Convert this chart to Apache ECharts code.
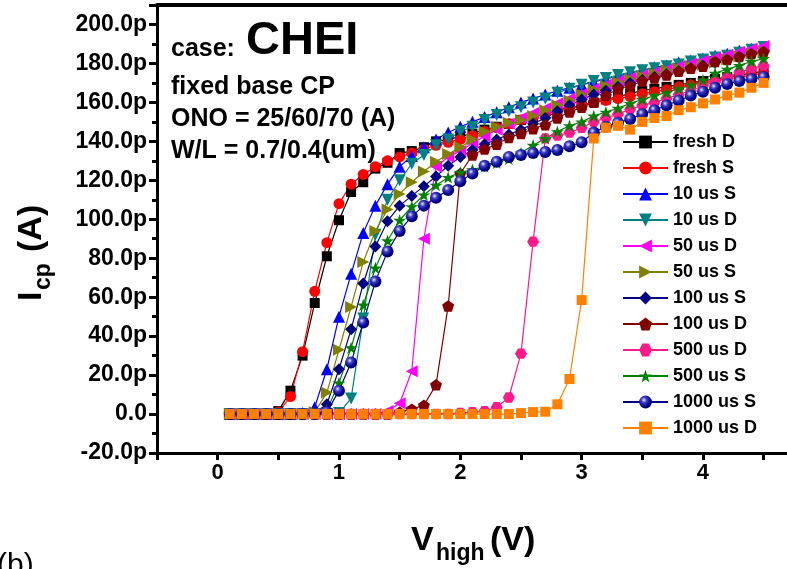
<!DOCTYPE html>
<html>
<head>
<meta charset="utf-8">
<script src="https://cdn.jsdelivr.net/npm/echarts@6/dist/echarts.min.js"></script>
<style>html,body{margin:0;padding:0;background:#fff;}#c{width:787px;height:569px;}</style>
</head>
<body>
<div id="c"></div>
<script>
// V_high (V)
const xs = [0.1,0.2,0.3,0.4,0.5, 0.6,0.7,0.8,0.9,1.0, 1.1,1.2,1.3,1.4,1.5, 1.6,1.7,1.8,1.9,2.0, 2.1,2.2,2.3,2.4,2.5, 2.6,2.7,2.8,2.9,3.0, 3.1,3.2,3.3,3.4,3.5, 3.6,3.7,3.8,3.9,4.0, 4.1,4.2,4.3,4.4,4.5];
// I_cp in pA
const freshD = [0,0,0,0,1.5, 12,30,57,81,99.5, 114,119,126,129,134, 135,137,140,141,142.5, 144,146,147.5,149,151, 152.5,154,155.5,157,158.5, 160,161.5,163,164.5,166, 167,168,169,170,171, 172,173,174,175,176];
const freshS = [0,0,0,0,1, 9,32,63,88,108, 118,123,127,130,132, 134,136,138,139.5,141, 143,145,147,149,151, 152.5,154,155.5,157,158.5, 160,161,162,163,164.5, 165.5,166.5,168,169,170, 171,172,173,174,175];
const us10S = [0,0,0,0,0, 0,0.5,3.5,23,50, 72,93,107,118,127, 132.5,137,141,144.5,147.5, 150,152.5,155,157.5,160, 162,164,166,167.5,169, 170.5,172,173.5,175,176.5, 178,179,180.5,181.5,182.5, 184,185,186.5,187.5,188.5];
const us10D = [0,0,0,0,0, 0,0,0,0,0.5, 8,49,92,110,120, 128.5,133,138,141,145, 147.5,151,153.5,155.5,157.5, 160,162,165,167,169, 171,172.5,174,175.5,176.5, 177.5,178.5,179.5,181,182, 183,184,185.5,187,188.5];
const us50D = [0,0,0,0,0, 0,0,0,0,0, 0,0,0,1.5,5.5, 22,90,127,132,135, 139,142.5,146,149,152, 154.5,157,159.5,162,164.5, 167,169,171,172.5,174, 175.5,177,178.5,180,181.5, 183,184.5,186,187.5,189];
const us50S = [0,0,0,0,0, 0,0,1,11,33, 55,78,94,105,113, 119,124.5,129.5,133.5,137, 141,145,147.5,149.5,151, 153,156,158.5,161,164, 166.5,168.5,170.5,172,173.5, 175,176.5,177.5,178.5,179.5, 180.5,182,183.5,185,186];
const us100S = [0,0,0,0,0, 0,0,0.5,5,23, 43.5,67,86,99,107, 112,117,122,127.5,132, 135.5,138.5,141,143.5,146, 149,152,155.5,158.5,161.5, 164,166,168,170,171.5, 173,174.5,176,177.5,179, 180.5,182,183.5,185,186];
const us100D = [0,0,0,0,0, 0,0,0,0,0, 0,0,0,0,1, 2.5,4.5,15,55.5,123.5, 133,136,138.5,142,144, 146.5,148.5,152,155,157.5, 160,163.5,167,168.5,171, 172.5,174,176,177.5,178.5, 181,182,183.5,185,186];
const us500D = [0,0,0,0,0, 0,0,0,0,0, 0,0,0,0,0, 0,0,0,0,0.5, 1,1.5,3.5,8.5,31, 88.5,141.5,143,144.5,147, 150,152,154,156.5,158.5, 160,162,164,166,168.5, 170.5,173,175.5,177.5,179];
const us500S = [0,0,0,0,0, 0,0,0,2,16, 34,56,75,89,99.5, 106.5,112.5,117.5,121.5,124, 125.5,127,129,131,134, 138,141.5,145,148,150, 153,155,157,159.5,161.5, 163.5,165,167,169,171.5, 175,177,179,181,182.5];
const us1000S = [0,0,0,0,0, 0,0,0,1,12, 26.5,47,68,83.5,94, 101.5,107,111,115,119.5, 123.5,127.5,129.5,132,133, 134,134.5,135.5,137.5,139.5, 144.5,147.5,149.5,151.5,154, 156,158.5,161,163.5,165.5, 167.5,169.5,171,172,173];
const us1000D = [0,0,0,0,0, 0,0,0,0,0, 0,0,0,0,0, 0,0,0,0,0, 0,0,0,0,0.5, 1,1.2,5,18,58.5, 141.5,147,148,146,150, 152,153,156,157.5,159.5, 161.5,163.5,165,167.5,170];

const seriesNames = ['fresh D','fresh S','10 us S','10 us D','50 us D','50 us S','100 us S','100 us D','500 us D','500 us S','1000 us S','1000 us D'];
const seriesValues = [freshD, freshS, us10S, us10D, us50D, us50S, us100S, us100D, us500D, us500S, us1000S, us1000D];
const yTickValues = [-20,0,20,40,60,80,100,120,140,160,180,200];
const xTickLabels = ['0','1','2','3','4'];

const PENT = 'path://M0,-1L0.951,-0.309L0.588,0.809L-0.588,0.809L-0.951,-0.309Z';
const HEX = 'path://M-1,0L-0.5,-0.866L0.5,-0.866L1,0L0.5,0.866L-0.5,0.866Z';
const STAR = 'path://M0,-1L0.2245,-0.309L0.951,-0.309L0.363,0.118L0.588,0.809L0,0.382L-0.588,0.809L-0.363,0.118L-0.951,-0.309L-0.2245,-0.309Z';
const BALL = {type:'radial', x:0.38, y:0.35, r:0.7, colorStops:[{offset:0,color:'#e8e8ff'},{offset:0.3,color:'#4040c0'},{offset:0.7,color:'#000090'},{offset:1,color:'#000050'}]};

const styles = [
  {color:'#000000', symbol:'rect', rot:0, size:10},
  {color:'#ff0000', symbol:'circle', rot:0, size:11},
  {color:'#0000ff', symbol:'triangle', rot:0, size:12},
  {color:'#008080', symbol:'triangle', rot:180, size:12},
  {color:'#ff00ff', symbol:'triangle', rot:90, size:12},
  {color:'#808000', symbol:'triangle', rot:-90, size:12},
  {color:'#000080', symbol:'diamond', rot:0, size:12},
  {color:'#800000', symbol:PENT, rot:0, size:12},
  {color:'#ff1a8c', symbol:HEX, rot:0, size:12},
  {color:'#008000', symbol:STAR, rot:0, size:13},
  {color:'#000080', symbol:'circle', rot:0, size:12, fill:BALL},
  {color:'#ff8000', symbol:'rect', rot:0, size:10}
];

const series = seriesNames.map((name, k) => {
  const st = styles[k];
  return {
    name: name,
    type: 'line',
    data: xs.map((x, i) => [x, seriesValues[k][i]]),
    symbol: st.symbol,
    symbolRotate: st.rot,
    symbolSize: st.size,
    symbolKeepAspect: true,
    showAllSymbol: true,
    lineStyle: {color: st.color, width: 1.2},
    itemStyle: {color: st.fill || st.color, borderWidth: 0},
    emphasis: {disabled: true},
    animation: false,
    xAxisIndex: 0, yAxisIndex: 0
  };
});

const FONT = '"Liberation Sans", Arial, Helvetica, sans-serif';
const chart = echarts.init(document.getElementById('c'), null, {renderer: 'canvas'});
chart.setOption({
  backgroundColor: '#ffffff',
  animation: false,
  grid: {left: 157, top: 5, width: 643, height: 448, containLabel: false, outerBoundsMode: 'none'},
  xAxis: [{
    type: 'value', min: -0.5, max: 4.8, interval: 0.5,
    axisLine: {show: true, onZero: false, lineStyle: {color: '#000', width: 3}},
    axisTick: {show: true, inside: false, length: 7, lineStyle: {color: '#000', width: 3}},
    axisLabel: {margin: 9, color: '#000', fontSize: 22, fontWeight: 'bold', fontFamily: FONT,
      formatter: v => { const r = Math.round(v); return (Math.abs(v - r) < 1e-6 && xTickLabels.indexOf(String(r)) >= 0) ? String(r) : ''; }},
    splitLine: {show: false}
  }, {
    type: 'value', position: 'top', min: -0.5, max: 4.8,
    axisLine: {show: true, onZero: false, lineStyle: {color: '#000', width: 4}},
    axisTick: {show: false}, axisLabel: {show: false}, splitLine: {show: false}
  }],
  yAxis: {
    type: 'value', min: -20, max: 210, interval: 20,
    axisLine: {show: true, onZero: false, lineStyle: {color: '#000', width: 3}},
    axisTick: {show: true, inside: false, length: 8, lineStyle: {color: '#000', width: 3}},
    minorTick: {show: true, splitNumber: 2, length: 5, lineStyle: {color: '#000', width: 3}},
    axisLabel: {margin: 10, color: '#000', fontSize: 23, fontWeight: 'bold', fontFamily: FONT,
      formatter: v => { if (yTickValues.indexOf(v) < 0) return ''; return v === 0 ? '0.0' : v.toFixed(1) + 'p'; }},
    splitLine: {show: false}
  },
  legend: {
    orient: 'vertical', left: 622, top: 132, padding: 0,
    itemWidth: 45, itemHeight: 16, itemGap: 6,
    textStyle: {color: '#000', fontSize: 18, fontWeight: 'bold', fontFamily: FONT, lineHeight: 20},
    data: seriesNames
  },
  graphic: [
    {type: 'text', x: 171, y: 49, style: {text: 'case:', fill: '#000', font: 'bold 25px ' + FONT, verticalAlign: 'middle'}},
    {type: 'text', x: 246, y: 41, style: {text: 'CHEI', fill: '#000', font: 'bold 47px ' + FONT, verticalAlign: 'middle'}},
    {type: 'text', x: 171, y: 87, style: {text: 'fixed base CP', fill: '#000', font: 'bold 25px ' + FONT, verticalAlign: 'middle'}},
    {type: 'text', x: 171, y: 119, style: {text: 'ONO = 25/60/70 (A)', fill: '#000', font: 'bold 25px ' + FONT, verticalAlign: 'middle'}},
    {type: 'text', x: 171, y: 151, style: {text: 'W/L = 0.7/0.4(um)', fill: '#000', font: 'bold 25px ' + FONT, verticalAlign: 'middle'}},
    {type: 'text', x: 411, y: 541, style: {text: 'V', fill: '#000', font: 'bold 34px ' + FONT, verticalAlign: 'middle'}},
    {type: 'text', x: 436, y: 554, style: {text: 'high', fill: '#000', font: 'bold 23px ' + FONT, verticalAlign: 'middle'}},
    {type: 'text', x: 490, y: 541, style: {text: '(V)', fill: '#000', font: 'bold 34px ' + FONT, verticalAlign: 'middle'}},
    {type: 'group', x: 32, y: 301, rotation: Math.PI / 2, children: [
      {type: 'text', x: 0, y: 0, style: {text: 'I', fill: '#000', font: 'bold 34px ' + FONT, verticalAlign: 'middle'}},
      {type: 'text', x: 11, y: 12, style: {text: 'cp', fill: '#000', font: 'bold 23px ' + FONT, verticalAlign: 'middle'}},
      {type: 'text', x: 49, y: 0, style: {text: '(A)', fill: '#000', font: 'bold 34px ' + FONT, verticalAlign: 'middle'}}
    ]},
    {type: 'text', x: -3, y: 566, style: {text: '(b)', fill: '#000', font: '30px ' + FONT, verticalAlign: 'middle'}}
  ],
  series: series
});
</script>
</body>
</html>
